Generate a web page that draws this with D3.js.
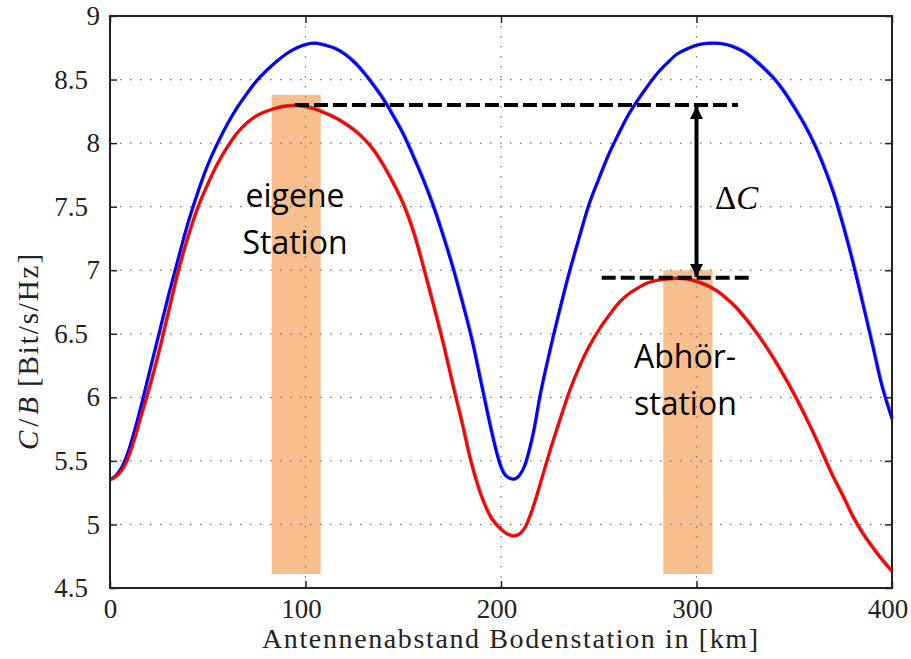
<!DOCTYPE html>
<html><head><meta charset="utf-8">
<script src="https://cdn.jsdelivr.net/npm/d3@7"></script>
<style>body{margin:0;background:#fff}</style>
</head><body>
<svg id="chart" width="911" height="659"></svg>
<script>
// ---------- data ----------
const xTicks = [0, 100, 200, 300, 400];
const yTicks = [4.5, 5, 5.5, 6, 6.5, 7, 7.5, 8, 8.5, 9];

// blue curve (C/B at own station)
const blueKm  = [0,3,6,9,12,16,20,25,30,35,40,45,50,55,60,65,70,75,80,85,90,95,100,105,110,115,120,125,130,135,140,145,150,155,160,165,170,175,180,185,190,195,198,200,202,204,206,208,210,212,214,217,220,225,230,235,240,245,250,255,260,265,270,275,280,285,290,295,300,305,308,310,315,320,325,330,335,340,345,350,355,360,365,370,375,380,385,390,395,400];
const blueVal = [5.35,5.385,5.45,5.56,5.71,5.94,6.19,6.5,6.81,7.1,7.38,7.62,7.83,8.0,8.15,8.28,8.39,8.49,8.57,8.64,8.7,8.745,8.775,8.785,8.77,8.745,8.7,8.635,8.55,8.45,8.34,8.21,8.07,7.9,7.72,7.52,7.29,7.04,6.76,6.46,6.1,5.74,5.55,5.45,5.39,5.365,5.355,5.365,5.4,5.46,5.56,5.76,6.02,6.37,6.69,6.99,7.26,7.52,7.72,7.91,8.07,8.22,8.34,8.45,8.55,8.63,8.7,8.74,8.77,8.783,8.785,8.785,8.775,8.75,8.71,8.65,8.58,8.5,8.4,8.28,8.15,8.0,7.82,7.61,7.35,7.06,6.74,6.41,6.08,5.83];

// red curve (C/B at eavesdropping station)
const redKm  = [0,4,8,12,16,20,25,30,35,40,45,50,55,60,65,70,75,80,85,90,94,100,105,110,115,120,125,130,135,140,145,150,155,160,165,170,175,180,185,190,195,200,203,206,209,212,216,220,225,230,235,240,245,250,255,260,265,270,275,280,285,290,295,300,305,310,315,320,325,330,335,340,345,350,355,360,365,370,375,380,385,390,395,400];
const redVal = [5.35,5.39,5.48,5.65,5.86,6.07,6.36,6.68,7.0,7.27,7.5,7.68,7.84,7.97,8.08,8.16,8.215,8.25,8.275,8.29,8.295,8.285,8.265,8.235,8.2,8.155,8.1,8.03,7.94,7.82,7.68,7.52,7.31,7.04,6.75,6.45,6.12,5.8,5.47,5.22,5.05,4.96,4.925,4.91,4.92,4.97,5.12,5.32,5.58,5.82,6.05,6.24,6.4,6.53,6.64,6.74,6.81,6.86,6.9,6.92,6.93,6.935,6.93,6.91,6.88,6.84,6.78,6.71,6.62,6.52,6.41,6.29,6.16,6.02,5.87,5.71,5.54,5.37,5.22,5.06,4.93,4.82,4.72,4.63];

// station regions (orange bars)
const stationFrom = [82.7, 283.0];
const stationTo   = [107.8, 308.2];
const stationLow  = [4.61, 4.61];
const stationHigh = [8.38, 7.0];

// reference levels (dashed)
const levelVal  = [8.30, 6.94];
const levelFrom = [94.6, 251.5];
const levelTo   = [321.2, 327.4];
const arrowKm = 300;

// ---------- chart ----------
const svg = d3.select("#chart");
const x = d3.scaleLinear().domain([0, 400]).range([110, 892]);
const y = d3.scaleLinear().domain([4.5, 9]).range([588, 16]);
const serif = "'Liberation Serif', 'Times New Roman', serif";

// bars
svg.append("g").selectAll("rect").data(stationFrom).join("rect")
  .attr("x", (d,i) => x(d))
  .attr("width", (d,i) => x(stationTo[i]) - x(d))
  .attr("y", (d,i) => y(stationHigh[i]))
  .attr("height", (d,i) => y(stationLow[i]) - y(stationHigh[i]))
  .attr("fill", "#f8bf8e");

// grid
const grid = svg.append("g").attr("stroke", "#7a7a7a").attr("stroke-width", 1.3)
  .attr("stroke-dasharray", "1.6,8.4");
grid.selectAll(".gy").data(yTicks.filter(v => v > 4.5 && v < 9)).join("line")
  .attr("x1", x(0)).attr("x2", x(400)).attr("y1", d => y(d)).attr("y2", d => y(d));
grid.selectAll(".gx").data(xTicks.filter(v => v > 0 && v < 400)).join("line")
  .attr("y1", y(9)).attr("y2", y(4.5)).attr("x1", d => x(d)).attr("x2", d => x(d));

// curves
const line = d3.line().x(d => x(d[0])).y(d => y(d[1])).curve(d3.curveCatmullRom.alpha(0.5));
const blue = blueKm.map((k,i) => [k, blueVal[i]]);
const red  = redKm.map((k,i) => [k, redVal[i]]);
[[blue, "#0000ff"], [red, "#ff0000"]].forEach(([pts, col]) => {
  svg.append("path").attr("d", line(pts)).attr("fill", "none")
    .attr("stroke", "#000").attr("stroke-opacity", 0.4).attr("stroke-width", 3.3)
    .attr("transform", "translate(0.7,-0.5)");
  svg.append("path").attr("d", line(pts)).attr("fill", "none")
    .attr("stroke", col).attr("stroke-width", 3);
});

// axes
const tickStyle = g => { g.select(".domain").remove(); g.selectAll("line").attr("stroke", "#222").attr("stroke-width", 1.5); };
const left = svg.append("g").attr("transform", `translate(${x(0)},0)`)
  .call(d3.axisLeft(y).tickValues(yTicks).tickSizeInner(-7).tickSizeOuter(0).tickPadding(10)
    .tickFormat(d => Number.isInteger(d) ? d : d.toFixed(1)))
  .call(tickStyle);
left.attr("font-family", null).attr("font-size", null);
left.selectAll("text").style("font-family", serif).style("font-size", "27px")
  .attr("fill", "#222").attr("x", d => Number.isInteger(d) ? -10 : -22);
const bottom = svg.append("g").attr("transform", `translate(0,${y(4.5)})`)
  .call(d3.axisBottom(x).tickValues(xTicks).tickSizeInner(-7).tickSizeOuter(0).tickPadding(11))
  .call(tickStyle);
bottom.attr("font-family", null).attr("font-size", null);
bottom.selectAll("text").style("font-family", serif).style("font-size", "27px")
  .attr("fill", "#222").attr("dx", d => d === 0 ? 0 : -4.5);
svg.append("g").attr("transform", `translate(${x(400)},0)`)
  .call(d3.axisRight(y).tickValues(yTicks).tickSizeInner(-7).tickSizeOuter(0).tickFormat(""))
  .call(tickStyle);
svg.append("g").attr("transform", `translate(0,${y(9)})`)
  .call(d3.axisTop(x).tickValues(xTicks).tickSizeInner(-7).tickSizeOuter(0).tickFormat(""))
  .call(tickStyle);
svg.append("rect").attr("x", x(0)).attr("y", y(9)).attr("width", x(400) - x(0)).attr("height", y(4.5) - y(9))
  .attr("fill", "none").attr("stroke", "#222").attr("stroke-width", 2);

// dashed levels
svg.append("g").selectAll("line").data(levelVal).join("line")
  .attr("x1", (d,i) => x(levelFrom[i])).attr("x2", (d,i) => x(levelTo[i]))
  .attr("y1", d => y(d)).attr("y2", d => y(d))
  .attr("stroke", "#000").attr("stroke-width", 4).attr("stroke-dasharray", "14,5");

// double arrow
const defs = svg.append("defs");
defs.append("marker").attr("id", "ah").attr("viewBox", "0 0 10 10").attr("refX", 10).attr("refY", 5)
  .attr("markerWidth", 3.3).attr("markerHeight", 3.3).attr("markerUnits", "strokeWidth").attr("orient", "auto-start-reverse")
  .append("path").attr("d", "M0,0 L10,5 L0,10 Z").attr("fill", "#000");
svg.append("line").attr("x1", x(arrowKm)).attr("x2", x(arrowKm))
  .attr("y1", y(levelVal[0]) + 1).attr("y2", y(levelVal[1]) - 1)
  .attr("stroke", "#000").attr("stroke-width", 4)
  .attr("marker-start", "url(#ah)").attr("marker-end", "url(#ah)");

// annotation texts
const ann = svg.append("g").style("font-family", "'Open Sans', sans-serif").style("font-size", "32px").attr("fill", "#000");
ann.append("text").attr("x", 295).attr("y", 207).attr("text-anchor", "middle").text("eigene");
ann.append("text").attr("x", 295).attr("y", 254).attr("text-anchor", "middle").text("Station");
ann.append("text").attr("x", 634).attr("y", 368).text("Abhör-");
ann.append("text").attr("x", 634).attr("y", 415).text("station");

const dc = svg.append("text").attr("x", 715).attr("y", 209)
  .style("font-family", serif).style("font-size", "33px").attr("fill", "#000");
dc.append("tspan").text("Δ");
dc.append("tspan").attr("font-style", "italic").text("C");

// axis titles
svg.append("text").attr("x", 510).attr("y", 648).attr("text-anchor", "middle")
  .style("font-family", serif).style("font-size", "28px").attr("fill", "#222")
  .attr("textLength", 496).attr("lengthAdjust", "spacing")
  .text("Antennenabstand Bodenstation in [km]");
const yt = svg.append("text").attr("transform", "translate(38,352) rotate(-90)").attr("text-anchor", "middle")
  .style("font-family", serif).style("font-size", "29px").attr("fill", "#222");
yt.append("tspan").attr("font-style", "italic").text("C");
yt.append("tspan").attr("dx", 4).text("/");
yt.append("tspan").attr("dx", 4).attr("font-style", "italic").text("B");
yt.append("tspan").attr("dx", 10).attr("textLength", 133).attr("lengthAdjust", "spacing").text("[Bit/s/Hz]");
</script>
</body></html>
